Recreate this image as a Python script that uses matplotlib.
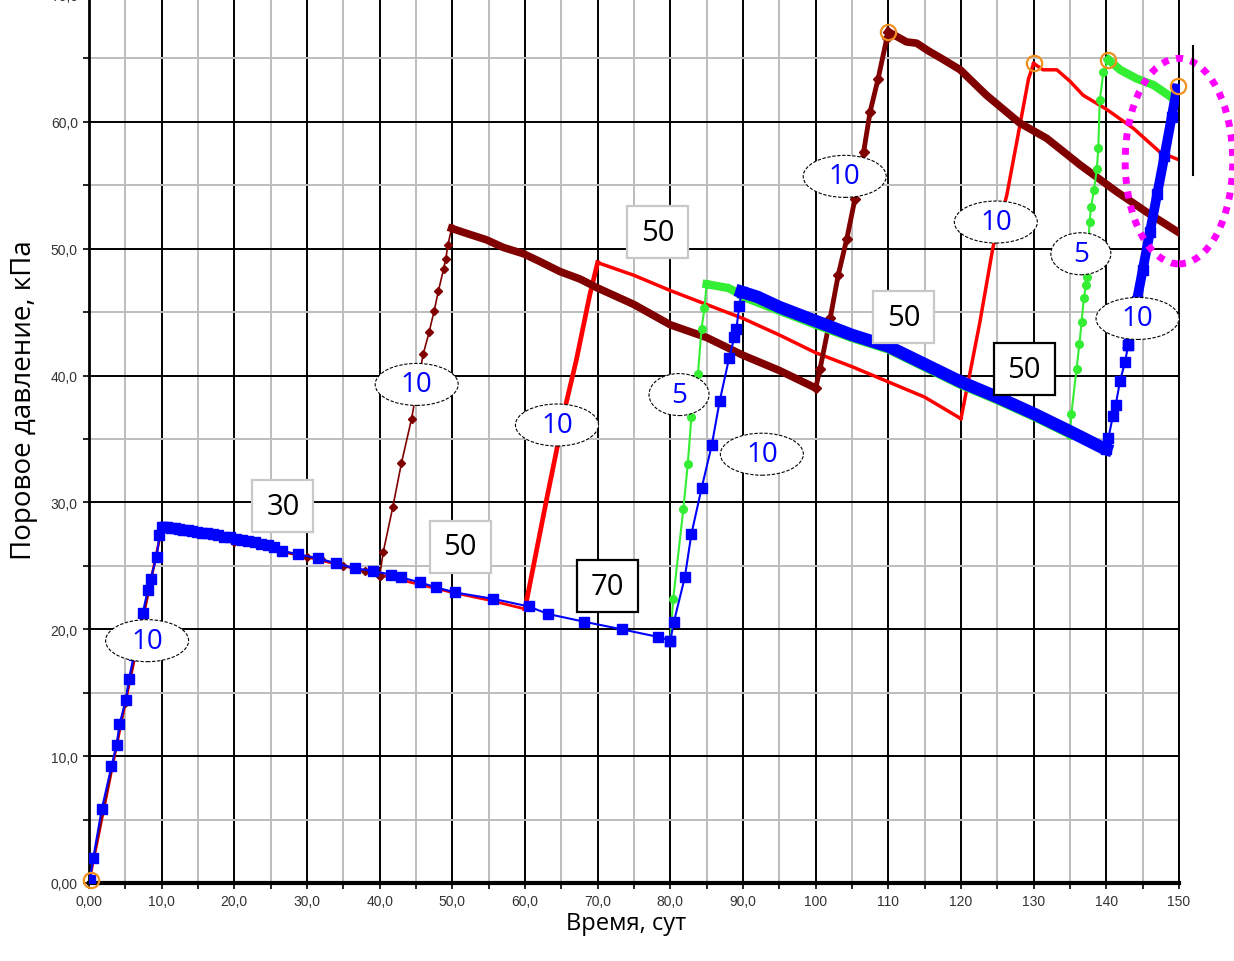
import matplotlib
matplotlib.use("Agg")
import matplotlib.pyplot as plt
from matplotlib.patches import Ellipse, Rectangle
from matplotlib.transforms import ScaledTranslation
from matplotlib.ticker import MultipleLocator

# ---- data (time in days, pore pressure in kPa) ----
blue_rise1_x = [0.1, 0.6, 1.75, 3.1, 3.8, 4.2, 5.05, 5.5, 6.2, 6.8, 7.4, 8.1, 8.5, 9.3, 9.7, 10.0]
blue_rise1_y = [0.2, 2.0, 5.8, 9.2, 10.9, 12.5, 14.4, 16.1, 18.0, 19.6, 21.3, 23.1, 24.0, 25.7, 27.4, 28.1]
blue_decay1_x = [10.3, 10.8, 11.3, 11.8, 12.4, 13.0, 13.6, 14.2, 14.9, 15.6, 16.3, 17.0, 17.8,
                 18.6, 19.4, 20.2, 21.0, 21.9, 22.8, 23.7, 24.6, 25.5, 26.5, 28.8, 31.5, 34.0,
                 36.6, 39.1, 41.6, 42.9, 45.5, 47.8, 50.4, 55.6, 60.5, 63.2, 68.1, 73.3, 78.3, 80.0]
blue_decay1_y = [28.1, 28.05, 28.0, 27.95, 27.9, 27.85, 27.8, 27.75, 27.7, 27.6, 27.55, 27.5, 27.4,
                 27.3, 27.25, 27.15, 27.05, 26.95, 26.85, 26.75, 26.65, 26.5, 26.2, 25.9, 25.6, 25.2,
                 24.8, 24.6, 24.3, 24.1, 23.7, 23.3, 22.9, 22.4, 21.8, 21.2, 20.6, 20.0, 19.4, 19.1]
blue_rise2_x = [80.0, 80.5, 82.0, 82.9, 84.3, 85.7, 86.8, 88.1, 88.8, 89.1, 89.5, 89.8]
blue_rise2_y = [19.1, 20.6, 24.1, 27.5, 31.1, 34.5, 38.0, 41.4, 43.0, 43.7, 45.5, 46.6]
blue_decay2_x = [89.8, 92.0, 95.0, 100.0, 105.0, 110.0, 115.0, 120.0, 125.0, 130.0, 135.0, 139.5, 140.0]
blue_decay2_y = [46.6, 46.2, 45.4, 44.3, 43.2, 42.3, 40.9, 39.5, 38.3, 37.0, 35.6, 34.3, 34.2]
blue_rise3_x = [140.0, 140.3, 140.9, 141.3, 141.9, 142.6, 143.0]
blue_rise3_y = [34.2, 35.1, 36.8, 37.7, 39.6, 41.1, 42.4]
blue_rise3b_x = [143.0, 143.6, 144.2, 145.0, 146.0, 147.0, 148.0, 149.0, 149.7]
blue_rise3b_y = [42.4, 44.2, 45.9, 48.3, 51.3, 54.3, 57.3, 60.4, 62.6]

red_seg1_x = [0.0, 5.0, 10.0, 15.0, 20.0, 25.0, 30.0, 35.0, 40.0, 45.0, 50.0, 55.0, 60.0]
red_seg1_y = [0.0, 14.2, 27.9, 27.5, 26.9, 26.3, 25.7, 25.0, 24.3, 23.6, 22.9, 22.3, 21.6]
red_rise1_x = [60.0, 63.0, 65.7, 67.1, 68.9, 70.0]
red_rise1_y = [21.6, 30.3, 37.9, 41.3, 46.3, 48.9]
red_decay1_x = [70.0, 72.0, 75.0, 80.0, 85.0, 90.0, 95.0, 100.0, 105.0, 110.0, 115.0, 120.0]
red_decay1_y = [48.9, 48.5, 47.9, 46.7, 45.6, 44.5, 43.2, 41.8, 40.7, 39.5, 38.3, 36.6]
red_rise2_x = [120.0, 121.0, 122.6, 124.4, 126.3, 128.1, 129.3, 130.0]
red_rise2_y = [36.6, 39.5, 44.2, 50.1, 54.2, 59.7, 63.4, 64.6]
red_decay2_x = [130.0, 131.3, 133.2, 135.0, 136.8, 140.0, 143.7, 147.4, 150.0]
red_decay2_y = [64.6, 64.1, 64.1, 63.2, 62.1, 61.0, 59.5, 57.6, 57.0]

brown_seg0_x = [0.0, 5.0, 10.0, 20.0, 30.0, 31.9, 35.0, 38.0, 40.0]
brown_seg0_y = [0.0, 14.2, 27.9, 26.9, 25.7, 25.5, 25.0, 24.6, 24.2]
brown_rise1_x = [40.0, 40.5, 41.8, 43.0, 44.4, 45.2, 46.0, 46.8, 47.5, 48.1, 48.8, 49.1, 49.4, 49.9]
brown_rise1_y = [24.2, 26.1, 29.6, 33.1, 36.6, 39.2, 41.7, 43.4, 45.1, 46.7, 48.4, 49.2, 50.3, 51.6]
brown_decay1_x = [49.9, 52.0, 54.7, 57.0, 59.8, 62.0, 64.8, 67.6, 70.0, 75.0, 80.0, 85.0, 90.0, 95.0, 99.7]
brown_decay1_y = [51.6, 51.2, 50.7, 50.1, 49.6, 49.0, 48.2, 47.6, 46.9, 45.6, 44.0, 43.0, 41.6, 40.4, 39.1]
brown_rise2_x = [100.0, 100.6, 102.0, 103.1, 104.3, 105.4, 106.6, 107.5, 108.6, 109.8, 110.0]
brown_rise2_y = [39.0, 40.5, 44.5, 47.9, 50.8, 53.9, 57.6, 60.8, 63.4, 66.6, 67.1]
brown_decay2_x = [110.0, 112.5, 113.9, 115.5, 117.6, 119.9, 123.5, 128.1, 131.8, 136.4, 141.4, 145.5, 149.9]
brown_decay2_y = [67.1, 66.3, 66.2, 65.6, 64.9, 64.1, 62.1, 59.9, 58.7, 56.6, 54.5, 52.9, 51.3]

green_rise1_x = [80.0, 80.4, 81.8, 82.4, 82.9, 83.4, 83.8, 84.3, 84.7, 85.0]
green_rise1_y = [19.1, 22.4, 29.5, 33.0, 36.7, 38.5, 40.1, 43.7, 45.3, 47.2]
green_decay1_x = [85.0, 86.0, 87.0, 88.0, 89.0, 90.0, 95.0, 100.0, 105.0, 110.0, 115.0, 120.0, 125.0, 130.0, 135.0]
green_decay1_y = [47.2, 47.1, 47.0, 46.9, 46.6, 46.2, 45.1, 44.0, 42.95, 42.05, 40.65, 39.25, 38.05, 36.75, 35.35]
green_rise2_x = [135.0, 135.2, 135.9, 136.3, 136.6, 136.9, 137.2, 137.3, 137.5, 137.7, 137.9,
                 138.3, 138.7, 138.9, 139.1, 139.6, 140.3]
green_rise2_y = [35.35, 37.0, 40.5, 42.5, 44.2, 46.1, 47.1, 47.8, 50.0, 52.1, 53.3,
                 54.6, 56.3, 57.9, 61.7, 63.9, 64.9]
green_decay2_x = [140.3, 141.9, 144.2, 146.5, 148.8, 149.0]
green_decay2_y = [64.9, 64.1, 63.4, 62.9, 62.0, 61.9]

peak_x = [0.3, 110.0, 130.0, 140.3, 149.8]
peak_y = [0.2, 67.1, 64.6, 64.9, 62.8]

# rate labels in ellipses (blue) and in boxes (black)
ell_x = [8.0, 45.1, 64.4, 81.2, 92.6, 104.0, 124.8, 136.5, 144.3]
ell_y = [19.1, 39.3, 36.1, 38.5, 33.8, 55.7, 52.1, 49.6, 44.5]
ell_txt = ["10", "10", "10", "5", "10", "10", "10", "5", "10"]
box_x = [26.7, 51.1, 71.3, 78.3, 112.1, 128.7]
box_y = [29.7, 26.5, 23.4, 51.3, 44.6, 40.5]
box_txt = ["30", "50", "70", "50", "50", "50"]
box_dark = [False, False, True, False, False, True]

x_ticks = [0, 10, 20, 30, 40, 50, 60, 70, 80, 90, 100, 110, 120, 130, 140, 150]
x_tick_labels = ["0,00", "10,0", "20,0", "30,0", "40,0", "50,0", "60,0", "70,0", "80,0",
                 "90,0", "100", "110", "120", "130", "140", "150"]
y_ticks = [0, 10, 20, 30, 40, 50, 60, 70]
y_tick_labels = ["0,00", "10,0", "20,0", "30,0", "40,0", "50,0", "60,0", "70,0"]

BLUE = "#0000ff"
RED = "#ff0000"
BROWN = "#800000"
GREEN = "#33ee33"

fig = plt.figure(figsize=(12.34, 9.62), dpi=100)
ax = fig.add_axes([0.0721, 0.0811, 0.8833, 0.9231])
ax.set_xlim(0, 150)
ax.set_ylim(0, 70)

# grid
ax.xaxis.set_minor_locator(MultipleLocator(5))
ax.yaxis.set_minor_locator(MultipleLocator(5))
ax.grid(which="major", color="black", lw=1.4)
ax.grid(which="minor", color="#bdbdbd", lw=1.4)
ax.set_axisbelow(True)

# red
ax.plot(red_seg1_x, red_seg1_y, color=RED, lw=2.0, zorder=2)
ax.plot(red_rise1_x, red_rise1_y, color=RED, lw=3.4, zorder=2)
ax.plot(red_decay1_x, red_decay1_y, color=RED, lw=2.5, zorder=2)
ax.plot(red_rise2_x, red_rise2_y, color=RED, lw=2.5, zorder=2)
ax.plot(red_decay2_x, red_decay2_y, color=RED, lw=2.5, zorder=2)

# brown
ax.plot(brown_seg0_x, brown_seg0_y, color=BROWN, lw=1.2, marker="D", ms=4, zorder=3)
ax.plot(brown_rise1_x, brown_rise1_y, color=BROWN, lw=1.2, marker="D", ms=4.5, zorder=3)
ax.plot(brown_decay1_x, brown_decay1_y, color=BROWN, lw=5.5, zorder=3)
ax.plot(brown_rise2_x, brown_rise2_y, color=BROWN, lw=3.5, marker="D", ms=5, zorder=3)
ax.plot(brown_decay2_x, brown_decay2_y, color=BROWN, lw=5.5, zorder=3)

# green
ax.plot(green_rise1_x, green_rise1_y, color=GREEN, lw=1.5, marker="o", ms=5.5, zorder=4)
ax.plot(green_decay1_x, green_decay1_y, color=GREEN, lw=6, zorder=4)
ax.plot(green_rise2_x, green_rise2_y, color=GREEN, lw=1.5, marker="o", ms=5.5, zorder=4)
ax.plot(green_decay2_x, green_decay2_y, color=GREEN, lw=6, zorder=4)

# blue
ax.plot(blue_rise1_x, blue_rise1_y, color=BLUE, lw=1.5, marker="s", ms=6.5, zorder=5)
ax.plot(blue_decay1_x, blue_decay1_y, color=BLUE, lw=1.5, marker="s", ms=6.5, zorder=5)
ax.plot(blue_rise2_x, blue_rise2_y, color=BLUE, lw=1.5, marker="s", ms=6.5, zorder=5)
ax.plot(blue_decay2_x, blue_decay2_y, color=BLUE, lw=9, zorder=5)
ax.plot(blue_rise3_x, blue_rise3_y, color=BLUE, lw=1.5, marker="s", ms=6.5, zorder=5)
ax.plot(blue_rise3b_x, blue_rise3b_y, color=BLUE, lw=7, marker="s", ms=6.5, zorder=5)

# peak markers
ax.plot(peak_x, peak_y, ls="none", marker="o", ms=11, mfc="none", mec="#f0901e", mew=1.6,
        zorder=6, clip_on=False)

# labels
for x, y, t in zip(ell_x, ell_y, ell_txt):
    tr = fig.dpi_scale_trans + ScaledTranslation(x, y, ax.transData)
    w = 0.6 if t == "5" else 0.83
    ax.add_patch(Ellipse((0, 0), w, 0.42, transform=tr, fc="white", ec="black",
                         lw=0.8, ls=(0, (3, 1.5)), zorder=7))
    ax.text(x, y, t, color=BLUE, fontsize=20, family="Open Sans", ha="center",
            va="center", zorder=8)

for x, y, t, dark in zip(box_x, box_y, box_txt, box_dark):
    tr = fig.dpi_scale_trans + ScaledTranslation(x, y, ax.transData)
    ax.add_patch(Rectangle((-0.305, -0.26), 0.61, 0.52, transform=tr, fc="white",
                           ec="black" if dark else "#c8c8c8", lw=1.6, zorder=7))
    ax.text(x, y, t, color="black", fontsize=21, family="Open Sans", ha="center",
            va="center", zorder=8)

# highlight ellipse and marker line at the right edge
ax.add_patch(Ellipse((150.0, 56.9), 14.8, 16.2, fill=False, ec="#ff00ff", lw=5,
                     ls=(0, (1, 1.1)), zorder=9, clip_on=False))
ax.plot([151.9, 151.9], [55.8, 66.0], color="black", lw=1.5, clip_on=False, zorder=9)

# axes
ax.set_xticks(x_ticks)
ax.set_xticklabels(x_tick_labels)
ax.set_yticks(y_ticks)
ax.set_yticklabels(y_tick_labels)
ax.tick_params(which="both", direction="out", length=4, width=1.2, color="black",
               labelsize=10, labelcolor="#333333", pad=4)
for lab in ax.get_xticklabels() + ax.get_yticklabels():
    lab.set_family("Liberation Sans")
ax.spines["top"].set_visible(False)
ax.spines["bottom"].set_linewidth(3)
ax.spines["left"].set_linewidth(2)
ax.spines["right"].set_linewidth(1.4)

ax.set_xlabel("Время, сут", fontsize=17, family="Open Sans")
ax.xaxis.set_label_coords(0.493, -0.032)
ax.set_ylabel("Поровое давление, кПа", fontsize=20, family="Open Sans")
ax.yaxis.set_label_coords(-0.047, 0.545)

fig.savefig("out.png", dpi=100)
